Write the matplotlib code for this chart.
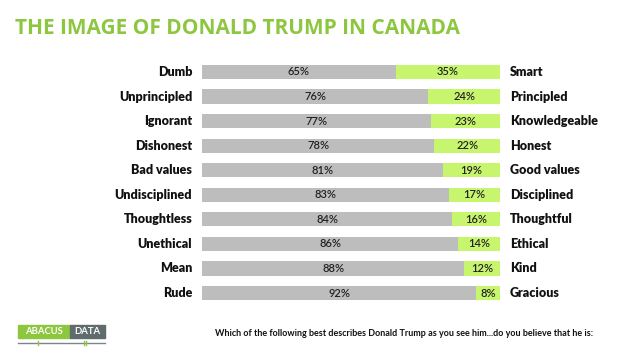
import matplotlib
matplotlib.use("Agg")
import matplotlib.pyplot as plt
from matplotlib.patches import Rectangle

negative = ["Dumb", "Unprincipled", "Ignorant", "Dishonest", "Bad values",
            "Undisciplined", "Thoughtless", "Unethical", "Mean", "Rude"]
positive = ["Smart", "Principled", "Knowledgeable", "Honest", "Good values",
            "Disciplined", "Thoughtful", "Ethical", "Kind", "Gracious"]
neg_vals = [65, 76, 77, 78, 81, 83, 84, 86, 88, 92]
pos_vals = [35, 24, 23, 22, 19, 17, 16, 14, 12, 8]

GRAY = "#bdbdbd"
GREEN = "#c8f56e"
TITLE_GREEN = "#8dc63f"
FONT = "Lato"

W, H = 636, 360
fig = plt.figure(figsize=(W / 100, H / 100), dpi=100)
fig.patch.set_facecolor("white")

ax = fig.add_axes([202 / W, 1 - 305.3 / H, 298 / W, 245.6 / H])
y = list(range(len(negative)))
ax.barh(y, neg_vals, height=0.58, color=GRAY, edgecolor="none")
ax.barh(y, pos_vals, left=neg_vals, height=0.58, color=GREEN, edgecolor="none")
ax.set_xlim(0, 100)
ax.set_ylim(len(negative) - 0.5, -0.5)
ax.axis("off")

for i in y:
    ax.text(neg_vals[i] / 2, i, f"{neg_vals[i]}%", ha="center", va="center",
            fontsize=8, color="#222222", family=FONT, fontweight="semibold")
    ax.text(neg_vals[i] + pos_vals[i] / 2, i, f"{pos_vals[i]}%", ha="center",
            va="center", fontsize=8, color="#222222", family=FONT,
            fontweight="semibold")
    ax.text(-3.3, i, negative[i], ha="right", va="center", fontsize=9,
            fontweight="heavy", color="#111111", family=FONT)
    ax.text(103.3, i, positive[i], ha="left", va="center", fontsize=9,
            fontweight="heavy", color="#111111", family=FONT)

fig.text(15 / W, 1 - 28 / H, "THE IMAGE OF DONALD TRUMP IN CANADA",
         ha="left", va="center", fontsize=15, fontweight="bold",
         color=TITLE_GREEN, family="Open Sans")

fig.text(215 / W, 1 - 334 / H,
         "Which of the following best describes Donald Trump as you see him...do you believe that he is:",
         ha="left", va="center", fontsize=6.5, fontweight="bold", color="#111111",
         family=FONT)

# logo
fig.patches.append(Rectangle((18 / W, 1 - 338 / H), 52 / W, 13 / H,
                             transform=fig.transFigure, color="#8dc63f"))
fig.patches.append(Rectangle((70 / W, 1 - 338 / H), 35 / W, 13 / H,
                             transform=fig.transFigure, color="#5f6b6d"))
fig.text(44 / W, 1 - 331.5 / H, "ABACUS", ha="center", va="center",
         fontsize=6.8, color="white", family=FONT, fontweight="bold")
fig.text(87.5 / W, 1 - 331.5 / H, "DATA", ha="center", va="center",
         fontsize=6.8, color="white", family=FONT, fontweight="bold")
fig.lines.append(plt.Line2D([18 / W, 105 / W], [1 - 342.5 / H, 1 - 342.5 / H],
                            transform=fig.transFigure, color="#7a8688", lw=1))
for xx, col in [(38, "#8dc63f"), (84, "#8dc63f"), (86, "#8dc63f")]:
    fig.lines.append(plt.Line2D([xx / W, xx / W], [1 - 340.5 / H, 1 - 344.5 / H],
                                transform=fig.transFigure, color=col, lw=1))

fig.savefig("out.png", dpi=100, facecolor="white")
